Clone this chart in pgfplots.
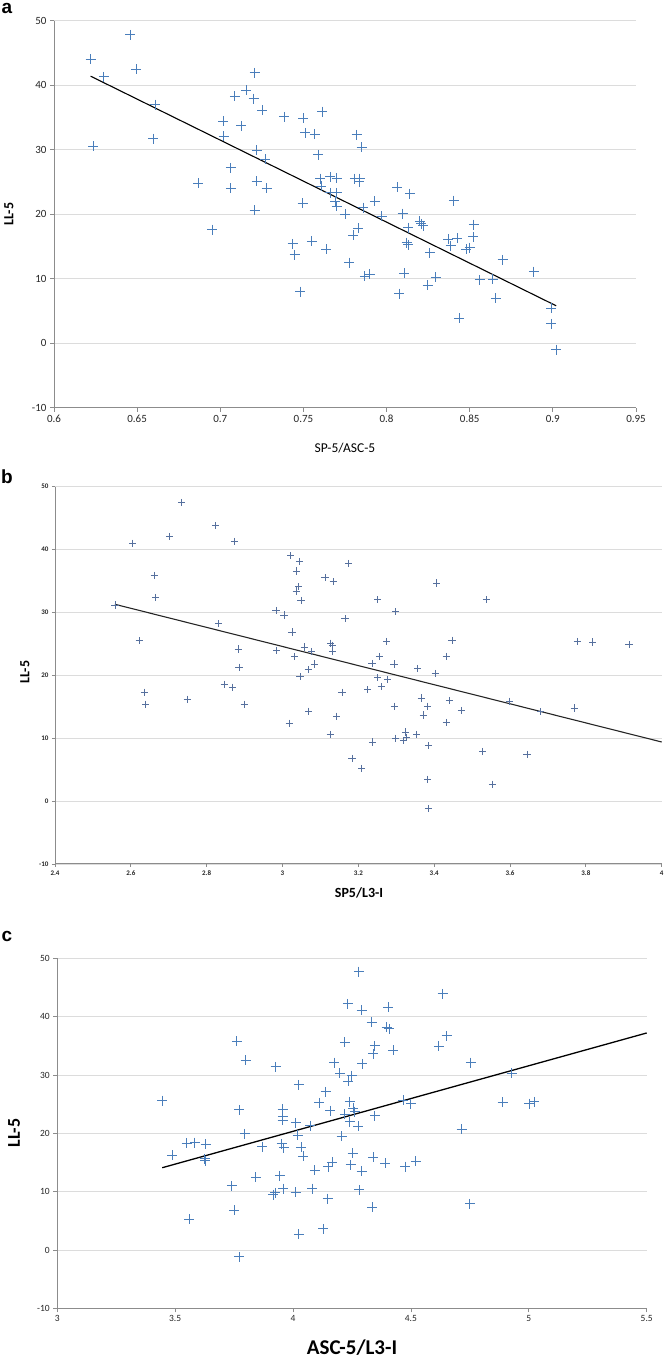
\documentclass[border=0pt]{standalone}
\usepackage{fontspec}
\setmainfont{Carlito}
\newfontfamily\arialfont{Liberation Sans}
\usepackage{pgfplots}
\pgfplotsset{compat=1.18}
\definecolor{mk}{HTML}{4A7EBB}
\definecolor{mkb}{HTML}{56709E}
\definecolor{ax}{HTML}{8C8C8C}
\definecolor{gr}{HTML}{DCDCDC}
\pgfplotsset{
  base/.style={
    scale only axis,
    anchor=south west,
    axis x line*=bottom, axis y line*=left,
    axis line style={ax, line width=1pt},
    ymajorgrids, grid style={gr, line width=0.8pt},
    tick align=outside,
    major tick length=4pt,
    tick style={ax, line width=0.8pt},
    ymin=-10, ymax=50, ytick={-10,0,10,20,30,40,50},
    /pgf/number format/assume math mode=true,
    /pgf/number format/fixed,
    /pgf/number format/precision=2,
    tick label style={color=black!85},
    clip=false,
  }
}
\begin{document}
\begin{tikzpicture}[x=1pt,y=1pt]
\path[use as bounding box] (0,0) rectangle (665,1361);

% ---------------- panel a ----------------
\begin{axis}[base,
  at={(54pt,953.3pt)}, width=582pt, height=387pt,
  xmin=0.6, xmax=0.95, xtick={0.6,0.65,0.7,0.75,0.8,0.85,0.9,0.95},
  tick label style={font=\fontsize{11}{12}\selectfont},
]
\addplot[only marks, mark=+, mark size=5pt, mark options={mk, line width=1pt}] coordinates {
(0.622,44.0) (0.630,41.3) (0.646,47.8) (0.6495,42.5) (0.6236,30.5) (0.661,37.0)
(0.6597,31.7) (0.6866,24.8) (0.6952,17.6) (0.7018,34.4) (0.702,32.1) (0.7064,27.2)
(0.7064,24.0) (0.7087,38.3) (0.7126,33.7) (0.7155,39.2) (0.720,37.9) (0.7207,41.9)
(0.7253,36.1) (0.7219,29.9) (0.727,28.5) (0.7219,25.1) (0.7279,24.0) (0.7207,20.6)
(0.7385,35.1) (0.7499,34.9) (0.7511,32.6) (0.7568,32.4) (0.7613,35.9) (0.7589,29.2)
(0.7600,25.5) (0.7607,24.3) (0.7495,21.7) (0.7435,15.4) (0.7447,13.7) (0.7551,15.8)
(0.7636,14.6) (0.7481,8.0) (0.766,25.8) (0.770,25.6) (0.766,23.3) (0.770,23.3)
(0.769,22.0) (0.770,21.2) (0.782,32.3) (0.785,30.4) (0.781,25.5) (0.784,25.5)
(0.7836,25.0) (0.775,20.0) (0.786,21.0) (0.793,22.0) (0.797,19.7) (0.783,17.8)
(0.780,16.7) (0.7776,12.5) (0.787,10.4) (0.790,10.7) (0.8064,24.2) (0.814,23.2)
(0.8097,20.1) (0.8405,22.1) (0.813,17.9) (0.812,15.6) (0.813,15.3) (0.8105,10.85)
(0.8076,7.7) (0.820,18.9) (0.821,18.5) (0.822,18.2) (0.826,14.0) (0.8247,9.0)
(0.8297,10.2) (0.837,16.1) (0.8385,15.1) (0.8425,16.3) (0.8437,3.9) (0.848,14.6)
(0.850,14.8) (0.8525,18.4) (0.852,16.5) (0.856,9.8) (0.864,9.9) (0.8658,7.0)
(0.8698,12.9) (0.8886,11.1) (0.899,5.4) (0.899,3.0) (0.902,-1.0)
};
\addplot[black, line width=1.1pt] coordinates {(0.622,41.4) (0.902,5.8)};
\end{axis}

% ---------------- panel b ----------------
\begin{axis}[base,
  at={(55pt,497pt)}, width=606.7pt, height=377.3pt,
  xmin=2.4, xmax=4, xtick={2.4,2.6,2.8,3,3.2,3.4,3.6,3.8,4},
  tick label style={font=\bfseries\fontsize{7}{8}\selectfont},
  major tick length=3pt,
]
\addplot[only marks, mark=+, mark size=3.6pt, mark options={mkb, line width=0.8pt}] coordinates {
(2.558,31.2) (2.605,41.0) (2.622,25.5) (2.662,35.9) (2.666,32.4) (2.703,42.1)
(2.734,47.5) (2.824,43.8) (2.873,41.3) (2.831,28.2) (2.883,24.2) (2.885,21.3)
(2.983,30.3) (3.004,29.6) (2.985,23.9) (3.025,26.9) (3.032,23.0) (3.022,39.0)
(3.045,38.1) (3.037,36.6) (3.043,34.1) (3.036,33.4) (3.049,31.9) (3.057,24.5)
(3.076,23.8) (3.084,21.8) (3.068,20.9) (3.112,35.5) (3.134,34.9) (3.127,25.1)
(3.132,24.8) (3.132,23.8) (3.174,37.8) (3.251,32.0) (3.299,30.1) (3.165,29.0)
(3.407,34.7) (3.537,32.0) (3.275,25.4) (3.447,25.6) (3.256,23.0) (3.236,21.9)
(3.294,21.8) (3.432,23.0) (3.777,25.4) (3.818,25.3) (3.914,24.9) (3.357,21.1)
(3.403,20.3) (2.636,17.3) (2.639,15.4) (2.749,16.2) (2.846,18.5) (2.848,18.6)
(2.868,18.1) (2.899,15.4) (3.018,12.4) (3.046,19.8) (3.069,14.3) (3.126,10.6)
(3.143,13.5) (3.157,17.3) (3.251,19.6) (3.277,19.3) (3.260,18.2) (3.225,17.7)
(3.295,15.1) (3.366,16.4) (3.382,15.1) (3.371,13.7) (3.440,16.0) (3.472,14.4)
(3.432,12.5) (3.324,11.0) (3.328,10.1) (3.299,10.0) (3.319,9.6) (3.354,10.6)
(3.237,9.4) (3.385,8.8) (3.183,6.8) (3.209,5.2) (3.383,3.5) (3.385,-1.2)
(3.528,7.9) (3.645,7.4) (3.554,2.7) (3.598,15.9) (3.681,14.2) (3.769,14.8)
};
\addplot[black!85, line width=1.1pt] coordinates {(2.558,31.3) (4.0,9.4)};
\end{axis}

% ---------------- panel c ----------------
\begin{axis}[base,
  at={(57.3pt,52.7pt)}, width=589.4pt, height=350pt,
  xmin=3, xmax=5.5, xtick={3,3.5,4,4.5,5,5.5},
  tick label style={font=\fontsize{9.5}{10}\selectfont},
]
\addplot[only marks, mark=+, mark size=5pt, mark options={mk, line width=1pt}] coordinates {
(3.445,25.6) (3.762,35.8) (3.799,32.5) (3.926,31.4) (3.772,24.0) (4.025,28.3)
(4.175,32.1) (4.199,30.3) (4.138,27.1) (4.111,25.2) (4.157,23.9) (3.956,24.1)
(3.957,22.9) (3.956,22.2) (4.012,21.8) (4.072,21.3) (4.279,47.7) (4.634,43.9)
(4.232,42.2) (4.291,41.1) (4.404,41.6) (4.333,39.0) (4.397,38.2) (4.408,37.9)
(4.651,36.7) (4.220,35.6) (4.347,35.0) (4.340,33.6) (4.425,34.2) (4.619,34.9)
(4.754,32.1) (4.293,31.9) (4.249,29.9) (4.234,28.9) (4.927,30.3) (4.241,25.4)
(4.255,24.3) (4.262,23.7) (4.220,23.3) (4.347,23.0) (4.467,25.7) (4.500,25.1)
(4.889,25.3) (5.002,25.1) (5.022,25.4) (4.241,22.0) (4.276,21.2) (4.715,20.7)
(3.488,16.2) (3.549,18.3) (3.584,18.4) (3.629,18.1) (3.626,15.6) (3.628,15.3)
(3.796,19.9) (3.869,17.7) (3.952,18.2) (3.961,17.5) (4.034,17.6) (4.043,16.1)
(4.019,19.7) (3.740,11.0) (3.842,12.5) (3.944,12.7) (3.916,9.5) (3.925,9.8)
(3.958,10.5) (4.011,9.9) (4.081,10.5) (4.093,13.7) (4.147,8.8) (4.149,14.3)
(4.166,15.0) (3.751,6.8) (3.559,5.3) (4.025,2.7) (4.128,3.6) (3.772,-1.2)
(4.206,19.5) (4.253,16.6) (4.244,14.6) (4.291,13.5) (4.340,15.9) (4.390,14.9)
(4.475,14.3) (4.521,15.2) (4.281,10.3) (4.336,7.3) (4.750,7.9)
};
\addplot[black, line width=1.3pt] coordinates {(3.445,14.1) (5.5,37.2)};
\end{axis}

% ---------------- labels ----------------
\node[font=\arialfont\bfseries\fontsize{19}{19}\selectfont] at (7,1353) {a};
\node[font=\arialfont\bfseries\fontsize{19}{19}\selectfont] at (7,884) {b};
\node[font=\arialfont\bfseries\fontsize{19}{19}\selectfont] at (7,425) {c};

\node[font=\bfseries\fontsize{14}{14}\selectfont, rotate=90] at (9,1147) {LL-5};
\node[font=\fontsize{13.5}{14}\selectfont] at (345,913) {SP-5/ASC-5};

\node[font=\bfseries\fontsize{14}{14}\selectfont, rotate=90] at (25,689) {LL-5};
\node[font=\bfseries\fontsize{14}{14}\selectfont] at (359,468) {SP5/L3-I};

\node[font=\bfseries\fontsize{18}{18}\selectfont, rotate=90] at (14,228) {LL-5};
\node[font=\bfseries\fontsize{21}{21}\selectfont] at (352,13) {ASC-5/L3-I};
\end{tikzpicture}
\end{document}
